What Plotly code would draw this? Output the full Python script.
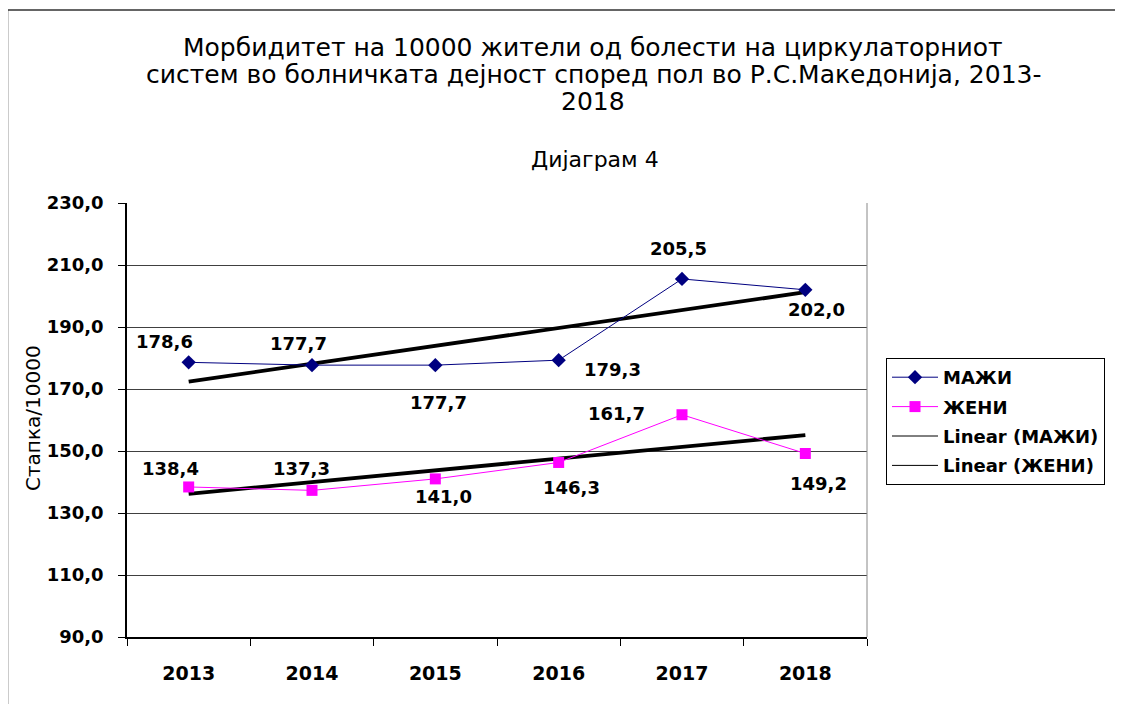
import numpy as np
import plotly.graph_objects as go

years = ["2013", "2014", "2015", "2016", "2017", "2018"]
men = [178.6, 177.7, 177.7, 179.3, 205.5, 202.0]
women = [138.4, 137.3, 141.0, 146.3, 161.7, 149.2]
y_ticks = [90, 110, 130, 150, 170, 190, 210, 230]
y_tick_labels = ["90,0", "110,0", "130,0", "150,0", "170,0", "190,0", "210,0", "230,0"]

title_lines = [
    "Морбидитет на 10000 жители од болести на циркулаторниот",
    "систем во болничката дејност според пол во Р.С.Македонија, 2013-",
    "2018",
]
subtitle = "Дијаграм 4"
y_title = "Стапка/10000"

# label offsets (style only): (xshift, yshift) in pixels
men_offsets = [(-24, 21), (-14, 22), (3, -37), (54, -9), (-4, 30), (11, -20)]
women_offsets = [(-18, 18), (-11, 22), (8, -18), (13, -25), (-66, 1), (13, -30)]

idx = np.arange(len(years))
men_fit = np.polyval(np.polyfit(idx, men, 1), idx)
women_fit = np.polyval(np.polyfit(idx, women, 1), idx)

FONT = "DejaVu Sans"
OFF = 8  # page body margin
W, H = 1123 - OFF, 704 - OFF
# plot area in screen pixels
L, R, T, B = 127, 867, 203, 637
PW, PH = R - L, B - T


def px(x):
    return (x - L) / PW


def py(y):
    return (B - y) / PH


fig = go.Figure()
fig.add_trace(go.Scatter(x=years, y=men_fit, mode="lines", showlegend=False,
                         line=dict(color="black", width=3.8), hoverinfo="skip"))
fig.add_trace(go.Scatter(x=years, y=women_fit, mode="lines", showlegend=False,
                         line=dict(color="black", width=3.8), hoverinfo="skip"))
fig.add_trace(go.Scatter(x=years, y=men, mode="lines+markers", name="МАЖИ", legendgroup="a",
                         line=dict(color="#000080", width=1),
                         marker=dict(symbol="diamond", size=11, color="#000080")))
fig.add_trace(go.Scatter(x=years, y=women, mode="lines+markers", name="ЖЕНИ", legendgroup="b",
                         line=dict(color="#FF00FF", width=1),
                         marker=dict(symbol="square", size=11, color="#FF00FF")))
fig.add_trace(go.Scatter(x=[years[0]], y=[None], mode="lines", name="Linear (МАЖИ)",
                         legendgroup="c", line=dict(color="black", width=1)))
fig.add_trace(go.Scatter(x=[years[0]], y=[None], mode="lines", name="Linear (ЖЕНИ)",
                         legendgroup="d", line=dict(color="black", width=1)))

annotations = []
for series, offs in ((men, men_offsets), (women, women_offsets)):
    for i, (v, (dx, dy)) in enumerate(zip(series, offs)):
        annotations.append(dict(x=i, y=v, xref="x", yref="y",
                                text=f"{v:.1f}".replace(".", ","), showarrow=False,
                                xshift=dx, yshift=dy,
                                font=dict(family=FONT, size=18, color="black", weight="bold")))

for line, ypix in zip(title_lines, [48, 75, 102]):
    annotations.append(dict(x=px(593), y=py(ypix), xref="paper", yref="paper",
                            text=line, showarrow=False, xanchor="center", yanchor="middle",
                            font=dict(family=FONT, size=25, color="black")))
annotations.append(dict(x=px(595), y=py(160), xref="paper", yref="paper",
                        text=subtitle, showarrow=False, xanchor="center", yanchor="middle",
                        font=dict(family=FONT, size=22, color="black")))
annotations.append(dict(x=px(33), y=py(418), xref="paper", yref="paper",
                        text=y_title, showarrow=False, textangle=-90,
                        xanchor="center", yanchor="middle",
                        font=dict(family=FONT, size=20, color="black")))

fig.update_layout(
    width=W, height=H,
    margin=dict(l=L - OFF, r=W - (R - OFF), t=T - OFF, b=H - (B - OFF), autoexpand=False),
    paper_bgcolor="white", plot_bgcolor="white",
    showlegend=True,
    legend=dict(x=px(886), y=py(358), xanchor="left", yanchor="top",
                bordercolor="black", borderwidth=1, bgcolor="white",
                font=dict(family=FONT, size=18, color="black", weight="bold"),
                tracegroupgap=3, itemwidth=46),
    annotations=annotations,
    shapes=[
        dict(type="rect", xref="paper", yref="paper",
             x0=px(7.5), x1=px(1300), y0=py(800), y1=py(10),
             line=dict(color="#333333", width=1.5), fillcolor="rgba(0,0,0,0)", layer="below"),
        dict(type="line", xref="paper", yref="paper", x0=1, x1=1, y0=0, y1=1,
             line=dict(color="#888888", width=1)),
    ],
)

fig.update_xaxes(type="category", categoryorder="array", categoryarray=years,
                 range=[-0.5, len(years) - 0.5], automargin=False,
                 tickson="boundaries", ticks="outside", ticklen=7,
                 tickcolor="black", showline=True, linecolor="black", linewidth=1.5,
                 showgrid=False, ticklabelstandoff=18,
                 tickfont=dict(family=FONT, size=19, color="black", weight="bold"))
fig.update_yaxes(range=[90, 230], tickvals=y_ticks, ticktext=y_tick_labels, automargin=False,
                 ticks="outside", ticklen=7, tickcolor="black",
                 showline=True, linecolor="black", linewidth=1.5,
                 showgrid=True, gridcolor="#404040", gridwidth=1,
                 zeroline=False, ticklabelstandoff=11,
                 tickfont=dict(family=FONT, size=18, color="black", weight="bold"))

fig.write_html("out.html")
